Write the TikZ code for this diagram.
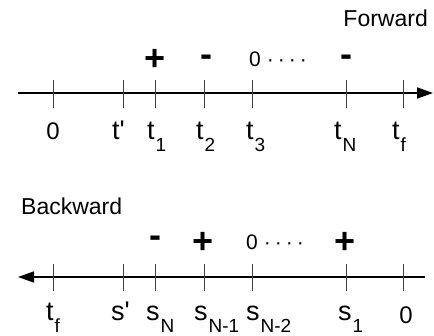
\documentclass[tikz,border=0pt]{standalone}
\usepackage{fontspec}
\setmainfont{Liberation Sans}
\usetikzlibrary{arrows.meta}
\newcommand{\mylab}[2]{#1\kern1pt\raisebox{-11.5pt}{\fontsize{19}{19}\selectfont #2}}
\begin{document}
\begin{tikzpicture}[x=1pt,y=-1pt,
  axisline/.style={line width=1.6pt,-{Triangle[length=16pt,width=11pt]}},
  ticklin/.style={line width=0.9pt,black!75},
  lab/.style={inner sep=0pt,anchor=base west,font=\fontsize{27}{30}\selectfont},
  lab0/.style={inner sep=0pt,anchor=base,font=\fontsize{24}{30}\selectfont},
  title/.style={inner sep=0pt,font=\fontsize{23}{28}\selectfont},
  sign/.style={inner sep=0pt,anchor=base,font=\fontsize{36}{40}\selectfont\bfseries},
  zdots/.style={inner sep=0pt,anchor=base west,font=\fontsize{21}{24}\selectfont}]
\useasboundingbox (0,0) rectangle (434,336);
% top axis
\coordinate (a1s) at (18,93);
\coordinate (a1e) at (433,93);
\draw[axisline] (a1s) -- (a1e);
\foreach \x in {53,123,155,204,252,346,403} \draw[ticklin] (\x,80) -- (\x,108);
\node[title,anchor=base east] (fwd) at (428,27) {Forward};
\node[sign] (p1) at (155,71) {+};
\node[sign] (m1) at (206,67) {-};
\node[zdots] (z1) at (249,67) {0\hspace{6pt}·\hspace{4pt}·\hspace{4pt}·\hspace{4pt}·};
\node[sign] (m2) at (346,67) {-};
\node[lab0] (l0) at (53,140) {0};
\node[lab] (ltp) at (112,140) {t\textquotesingle};
\node[lab] (lt1) at (147,140) {\mylab{t}{1}};
\node[lab] (lt2) at (196,140) {\mylab{t}{2}};
\node[lab] (lt3) at (246,140) {\mylab{t}{3}};
\node[lab] (ltN) at (334,140) {\mylab{t}{N}};
\node[lab] (ltf) at (392,140) {\mylab{t}{f}};
% bottom axis
\coordinate (a2s) at (425,277);
\coordinate (a2e) at (18,277);
\draw[axisline] (a2s) -- (a2e);
\foreach \x in {53,123,155,204,252,346,403} \draw[ticklin] (\x,264) -- (\x,291);
\node[title,anchor=base west] (bwd) at (21,215) {Backward};
\node[sign] (m3) at (155,248) {-};
\node[sign] (p2) at (203,254) {+};
\node[zdots] (z2) at (246,250) {0\hspace{6pt}·\hspace{4pt}·\hspace{4pt}·\hspace{4pt}·};
\node[sign] (p3) at (345,254) {+};
\node[lab] (btf) at (46,321) {\mylab{t}{f}};
\node[lab] (bsp) at (111,321) {s\textquotesingle};
\node[lab] (bsN) at (146,321) {\mylab{s}{N}};
\node[lab] (bsN1) at (194,321) {\mylab{s}{N-1}};
\node[lab] (bsN2) at (246,321) {\mylab{s}{N-2}};
\node[lab] (bs1) at (338,321) {\mylab{s}{1}};
\node[lab0] (b0) at (406,324) {0};
\end{tikzpicture}
\end{document}
